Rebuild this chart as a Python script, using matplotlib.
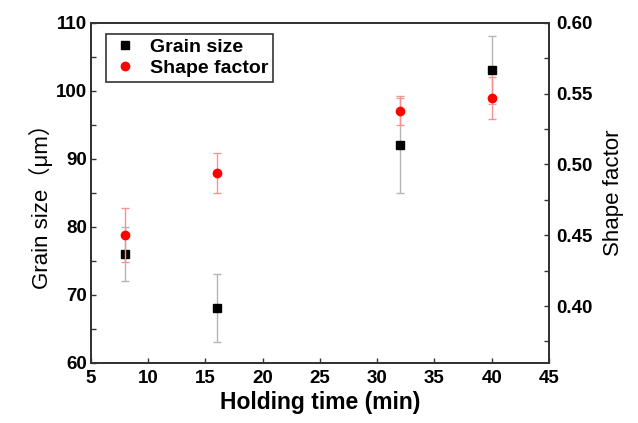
import numpy as np
import matplotlib
matplotlib.use("Agg")
from matplotlib import pyplot as plt
from matplotlib.ticker import MultipleLocator
from matplotlib.lines import Line2D

plt.rcParams['font.family'] = ['Liberation Sans', 'Noto Sans CJK SC', 'DejaVu Sans']

# holding time (min)
hold_time = [8, 16, 32, 40]

# grain size (um) and its error
grain_size = [76, 68, 92, 103]
grain_err = [4, 5, 7, 5]

# shape factor and its error
shape_factor = [0.450, 0.494, 0.538, 0.547]
shape_err = [0.019, 0.014, 0.010, 0.015]

fig = plt.figure(figsize=(6.38, 4.23), dpi=100)
ax = fig.add_axes([0.1426, 0.1426, 0.7179, 0.8037])
ax2 = ax.twinx()

ax.errorbar(hold_time, grain_size, yerr=grain_err, fmt='s', color='black',
            ecolor='#b5b5b5', elinewidth=1, capsize=3, capthick=1,
            markersize=5.5, zorder=3)
ax2.errorbar(hold_time, shape_factor, yerr=shape_err, fmt='o', color='red',
             ecolor='#ff9090', elinewidth=1, capsize=3, capthick=1,
             markersize=6, zorder=3)

ax.set_xlim(5, 45)
ax.set_ylim(60, 110)
ax2.set_ylim(0.36, 0.60)

ax.xaxis.set_major_locator(MultipleLocator(5))
ax.yaxis.set_major_locator(MultipleLocator(10))
ax.yaxis.set_minor_locator(MultipleLocator(5))
ax2.yaxis.set_major_locator(MultipleLocator(0.05))
ax2.yaxis.set_minor_locator(MultipleLocator(0.025))
ax2.yaxis.set_major_formatter(plt.FormatStrFormatter('%.2f'))

for a in (ax, ax2):
    a.tick_params(which='both', direction='in', length=3.5, width=1,
                  labelsize=13.5, color='#333333')
    for s in a.spines.values():
        s.set_linewidth(1.4)
        s.set_color('#333333')
    for lab in a.get_xticklabels() + a.get_yticklabels():
        lab.set_fontweight('bold')
ax.tick_params(axis='x', pad=5)
ax.tick_params(axis='y', pad=3)
ax2.tick_params(axis='y', pad=5)

ax.set_xlabel('Holding time (min)', fontsize=16.5, fontweight='bold', labelpad=3)
ax.set_ylabel('Grain size\uff08\u03bcm\uff09', fontsize=16)
ax.yaxis.set_label_coords(-0.082, 0.475)
ax2.set_ylabel('Shape factor', fontsize=16, labelpad=8)

handles = [Line2D([], [], ls='none', marker='s', color='black', markersize=5.5),
           Line2D([], [], ls='none', marker='o', color='red', markersize=6)]
leg = ax.legend(handles, ['Grain size', 'Shape factor'], loc='upper left',
                bbox_to_anchor=(0.02, 0.985), fancybox=False, framealpha=1,
                edgecolor='#333333', prop={'weight': 'bold', 'size': 14},
                handletextpad=0.5, borderpad=0.25, labelspacing=0.15,
                handlelength=1.5, borderaxespad=0.3)
leg.get_frame().set_linewidth(1.2)

fig.savefig('out.png', dpi=100)
